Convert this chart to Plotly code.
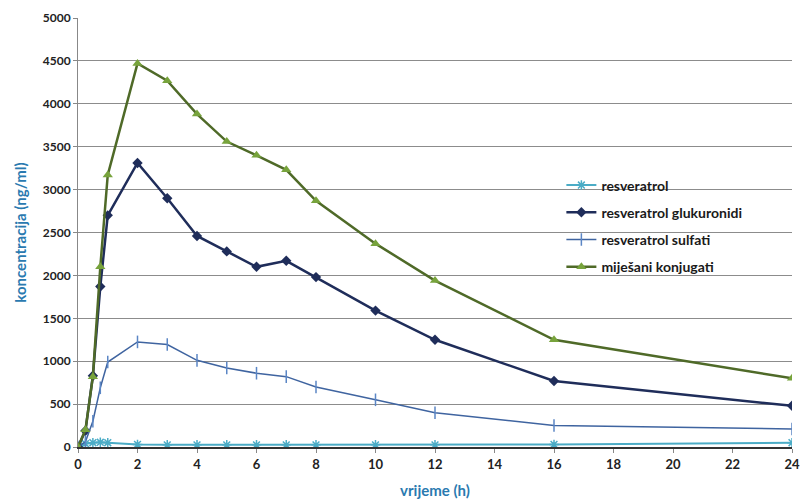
import plotly.graph_objects as go

time_h = [0, 0.25, 0.5, 0.75, 1, 2, 3, 4, 5, 6, 7, 8, 10, 12, 16, 24]
resveratrol = [0, 40, 50, 55, 50, 30, 25, 25, 25, 25, 25, 25, 25, 25, 30, 50]
glukuronidi = [0, 190, 830, 1870, 2700, 3310, 2900, 2460, 2280, 2100, 2170, 1980, 1590, 1250, 770, 480]
sulfati = [0, 60, 300, 690, 990, 1225, 1195, 1010, 920, 860, 820, 700, 550, 400, 250, 210]
konjugati = [0, 200, 820, 2100, 3170, 4470, 4270, 3880, 3560, 3400, 3230, 2870, 2370, 1940, 1250, 800]

x_ticks = list(range(0, 25, 2))
y_ticks = list(range(0, 5001, 500))

fig = go.Figure()
fig.add_trace(go.Scatter(x=time_h, y=resveratrol, name="resveratrol", mode="lines+markers",
                         legendgroup="a",
                         line=dict(color="#4bacc6", width=2),
                         marker=dict(symbol="asterisk", size=8, color="#4bacc6",
                                     line=dict(color="#4bacc6", width=1.5))))
fig.add_trace(go.Scatter(x=time_h, y=glukuronidi, name="resveratrol glukuronidi", mode="lines+markers",
                         legendgroup="b",
                         line=dict(color="#1f2d5a", width=2.5),
                         marker=dict(symbol="diamond", size=8, color="#1f2d5a")))
fig.add_trace(go.Scatter(x=time_h, y=sulfati, name="resveratrol sulfati", mode="lines+markers",
                         legendgroup="c",
                         line=dict(color="#3f64a0", width=1.5),
                         marker=dict(symbol="line-ns", size=9, color="#5b86c5",
                                     line=dict(color="#5b86c5", width=1.5))))
fig.add_trace(go.Scatter(x=time_h, y=konjugati, name="miješani konjugati", mode="lines+markers",
                         legendgroup="d",
                         line=dict(color="#4f6a28", width=2.5),
                         marker=dict(symbol="triangle-up", size=9, color="#77a33c")))

fig.update_layout(
    width=802, height=499,
    margin=dict(l=78, r=10, t=18, b=52),
    plot_bgcolor="white", paper_bgcolor="white",
    font=dict(family="Lato, DejaVu Sans, sans-serif", color="#222222"),
    showlegend=True,
    legend=dict(x=0.677, y=0.647, xanchor="left", yanchor="top",
                bgcolor="rgba(255,255,255,0)", borderwidth=0,
                font=dict(size=14, color="#1a1a1a", family="Lato, sans-serif", weight="bold"),
                tracegroupgap=6, itemwidth=30),
)
fig.update_xaxes(range=[0, 24], tickvals=x_ticks, ticktext=[str(v) for v in x_ticks],
                 showgrid=False, showline=True, linecolor="#333333", linewidth=2,
                 ticks="outside", ticklen=4, tickcolor="#888888", automargin=False,
                 ticklabeloverflow="allow",
                 tickfont=dict(size=13, family="Lato, sans-serif", weight="bold", color="#222222"),
                 title=dict(text="vrijeme (h)", font=dict(size=15, color="#2a7ab0", family="Lato, sans-serif", weight="bold"), standoff=15),
                 zeroline=False)
fig.update_yaxes(range=[0, 5000], tickvals=y_ticks, ticktext=[str(v) for v in y_ticks],
                 showgrid=True, gridcolor="#8c8c8c", gridwidth=1,
                 showline=True, linecolor="#888888", linewidth=1,
                 ticks="outside", ticklen=4, tickcolor="#888888", automargin=False,
                 ticklabeloverflow="allow",
                 tickfont=dict(size=12, family="Lato, sans-serif", weight="bold", color="#222222"),
                 title=dict(text="koncentracija (ng/ml)", font=dict(size=15, color="#2a7ab0", family="Lato, sans-serif", weight="bold"), standoff=12),
                 zeroline=False)

fig.write_html("out.html", config={"displayModeBar": False},
               post_script="document.body.style.margin='0';document.body.style.overflow='hidden';")
